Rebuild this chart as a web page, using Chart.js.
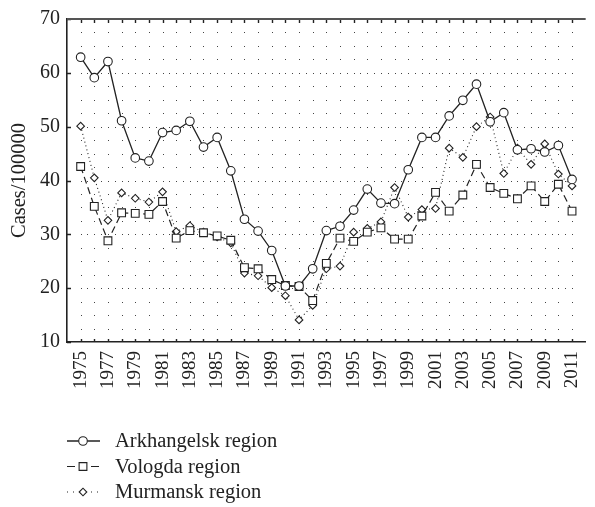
<!DOCTYPE html>
<html>
<head>
<meta charset="utf-8">
<script src="https://cdn.jsdelivr.net/npm/chart.js@4/dist/chart.umd.min.js"></script>
<style>
  body { margin: 0; background: #fff; }
  canvas { display: block; }
</style>
</head>
<body>
<canvas id="casesChart" width="595" height="507"></canvas>
<script>
const years = [1975, 1976, 1977, 1978, 1979, 1980, 1981, 1982, 1983, 1984, 1985, 1986,
  1987, 1988, 1989, 1990, 1991, 1992, 1993, 1994, 1995, 1996, 1997, 1998,
  1999, 2000, 2001, 2002, 2003, 2004, 2005, 2006, 2007, 2008, 2009, 2010, 2011];

const arkhangelsk = [62.9, 59.1, 62.1, 51.1, 44.2, 43.6, 48.9, 49.3, 51.0, 46.2, 48.0, 41.8,
  32.8, 30.6, 27.0, 20.4, 20.4, 23.6, 30.7, 31.5, 34.5, 38.4, 35.8, 35.7,
  42.0, 48.0, 48.0, 52.0, 54.9, 57.9, 50.9, 52.6, 45.7, 45.9, 45.3, 46.5, 40.2];

const vologda = [42.6, 35.2, 28.8, 34.0, 33.9, 33.7, 36.1, 29.3, 30.7, 30.3, 29.7, 28.9,
  23.8, 23.6, 21.6, 20.5, 20.3, 17.7, 24.6, 29.3, 28.7, 30.4, 31.2, 29.1,
  29.1, 33.4, 37.8, 34.3, 37.3, 43.0, 38.7, 37.6, 36.6, 39.0, 36.1, 39.3, 34.3];

const murmansk = [50.1, 40.5, 32.6, 37.7, 36.7, 36.0, 37.9, 30.5, 31.6, 30.4, 29.5, 28.4,
  22.8, 22.3, 20.1, 18.6, 14.1, 16.8, 23.6, 24.1, 30.4, 31.1, 32.3, 38.7,
  33.2, 34.6, 34.8, 46.0, 44.3, 50.0, 51.8, 41.3, 46.0, 43.0, 46.8, 41.2, 39.0];

const yTicks = [10, 20, 30, 40, 50, 60, 70];
const xLabelYears = [1975, 1977, 1979, 1981, 1983, 1985, 1987, 1989, 1991, 1993, 1995,
  1997, 1999, 2001, 2003, 2005, 2007, 2009, 2011];

const serif = "'Liberation Serif', 'Times New Roman', serif";
const ink = "#222";

function toPoints(values) {
  return values.map((v, i) => ({ x: years[i], y: v }));
}

// dotted grid, inward ticks and the top border line
const gridDots = {
  id: "gridDots",
  beforeDatasetsDraw(chart) {
    const { ctx, chartArea } = chart;
    const xs = chart.scales.x;
    const ys = chart.scales.y;
    ctx.save();
    ctx.fillStyle = "#444";
    for (let v = 12.5; v < 70; v += 2.5) {
      const py = Math.round(ys.getPixelForValue(v));
      const major = v % 10 === 0;
      const step = major ? 0.5 : 1;
      for (let yr = years[0]; yr <= years[years.length - 1] + 0.01; yr += step) {
        const px = Math.round(xs.getPixelForValue(yr));
        ctx.fillRect(px, py, 1, 1);
      }
    }
    ctx.strokeStyle = ink;
    ctx.lineWidth = 1.4;
    ctx.beginPath();
    years.forEach((yr) => {
      const px = Math.round(xs.getPixelForValue(yr)) + 0.5;
      ctx.moveTo(px, chartArea.bottom);
      ctx.lineTo(px, chartArea.bottom - 3);
      ctx.moveTo(px, chartArea.top);
      ctx.lineTo(px, chartArea.top + 4);
    });
    yTicks.forEach((v) => {
      const py = Math.round(ys.getPixelForValue(v)) + 0.5;
      ctx.moveTo(chartArea.left, py);
      ctx.lineTo(chartArea.left + 4, py);
    });
    ctx.stroke();
    ctx.strokeStyle = "#555";
    ctx.lineWidth = 2;
    ctx.beginPath();
    ctx.moveTo(chartArea.left, chartArea.top);
    ctx.lineTo(chartArea.right, chartArea.top);
    ctx.stroke();
    ctx.restore();
  },
};

// legend in a column under the plot
const columnLegend = {
  id: "columnLegend",
  afterDraw(chart) {
    const { ctx } = chart;
    ctx.save();
    chart.data.datasets.forEach((ds, i) => {
      const cy = 441 + i * 25.5;
      ctx.strokeStyle = ink;
      ctx.lineWidth = ds.borderWidth;
      ctx.setLineDash(ds.legendDash || []);
      ctx.beginPath();
      ctx.moveTo(67, cy);
      ctx.lineTo(100, cy);
      ctx.stroke();
      ctx.setLineDash([]);
      ctx.fillStyle = "#fff";
      ctx.lineWidth = 1.1;
      Chart.helpers.drawPoint(ctx, { pointStyle: ds.pointStyle, radius: ds.pointRadius, rotation: 0 }, 83, cy);
      ctx.fill();
      ctx.stroke();
      ctx.fillStyle = ink;
      ctx.font = "20.5px " + serif;
      ctx.textBaseline = "middle";
      ctx.fillText(ds.label, 115, cy + 1);
    });
    ctx.restore();
  },
};

new Chart(document.getElementById("casesChart").getContext("2d"), {
  type: "line",
  data: {
    datasets: [
      {
        label: "Arkhangelsk region",
        data: toPoints(arkhangelsk),
        borderColor: ink,
        borderWidth: 1.3,
        pointStyle: "circle",
        pointRadius: 4.3,
        pointBackgroundColor: "#fff",
        pointBorderColor: ink,
        pointBorderWidth: 1.1,
      },
      {
        label: "Vologda region",
        data: toPoints(vologda),
        borderColor: ink,
        borderWidth: 1.2,
        borderDash: [7, 4],
        legendDash: [8, 16],
        pointStyle: "rect",
        pointRadius: 5.5,
        pointBackgroundColor: "#fff",
        pointBorderColor: ink,
        pointBorderWidth: 1.1,
      },
      {
        label: "Murmansk region",
        data: toPoints(murmansk),
        borderColor: ink,
        borderWidth: 1.1,
        borderDash: [1, 3],
        legendDash: [1, 5],
        pointStyle: "rectRot",
        pointRadius: 3.8,
        pointBackgroundColor: "#fff",
        pointBorderColor: ink,
        pointBorderWidth: 1.1,
      },
    ],
  },
  options: {
    responsive: false,
    animation: false,
    layout: { padding: { top: 14, right: 0, bottom: 105, left: 0 } },
    plugins: {
      legend: { display: false },
      tooltip: { enabled: false },
    },
    scales: {
      x: {
        type: "linear",
        min: 1974,
        max: 2012,
        afterBuildTicks: (scale) => {
          scale.ticks = [{ value: 1974 }].concat(xLabelYears.map((v) => ({ value: v })), [{ value: 2012 }]);
        },
        afterFit: (scale) => { scale.height = 60; },
        ticks: {
          autoSkip: false,
          minRotation: 90,
          maxRotation: 90,
          padding: 0,
          color: ink,
          font: { family: serif, size: 19 },
          callback: (v) => (xLabelYears.includes(v) ? String(v) : null),
        },
        grid: { display: true, drawOnChartArea: false, tickLength: 9, tickColor: "rgba(0,0,0,0)" },
        border: { display: true, color: ink, width: 1.6 },
      },
      y: {
        min: 10,
        max: 70,
        afterBuildTicks: (scale) => {
          scale.ticks = yTicks.map((v) => ({ value: v }));
        },
        afterFit: (scale) => { scale.width = 67; },
        ticks: {
          padding: 7,
          color: ink,
          font: { family: serif, size: 20 },
        },
        grid: { display: true, drawOnChartArea: false, drawTicks: false },
        border: { display: true, color: ink, width: 1.6 },
        title: {
          display: true,
          text: "Cases/100000",
          color: ink,
          font: { family: serif, size: 20.5 },
          padding: { top: 7, bottom: 0 },
        },
      },
    },
  },
  plugins: [gridDots, columnLegend],
});
</script>
</body>
</html>
